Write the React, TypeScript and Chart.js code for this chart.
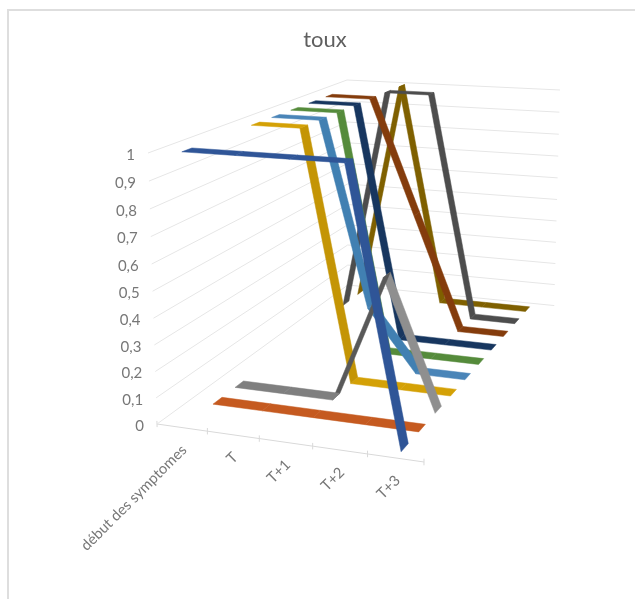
import React, { useEffect, useRef } from "react";
import { Chart, registerables } from "chart.js";

Chart.register(...registerables);

// ---- data ----
const categories = ["début des symptomes", "T", "T+1", "T+2", "T+3"];
const valueTicks = [0, 0.1, 0.2, 0.3, 0.4, 0.5, 0.6, 0.7, 0.8, 0.9, 1];
const valueTickLabels = ["0", "0,1", "0,2", "0,3", "0,4", "0,5", "0,6", "0,7", "0,8", "0,9", "1"];
const chartTitle = "toux";

// series, front to back
const serie1 = [1, 1, 1, 1, 0];
const serie2 = [0, 0, 0, 0, 0];
const serie3 = [0, 0, 0, 0.5, 0];
const serie4 = [1, 1, 0, 0, 0];
const serie5 = [1, 1, 0.25, 0, 0];
const serie6 = [1, 1, 0, 0, 0];
const serie7 = [1, 1, 0, 0, 0];
const serie8 = [1, 1, 0.5, 0, 0];
const serie9 = [0, 1, 1, 0, 0];
const serie10 = [0, 1, 0, 0, 0];
const seriesValues = [serie1, serie2, serie3, serie4, serie5, serie6, serie7, serie8, serie9, serie10];

// ---- styles: [flat, falling, rising] ----
const seriesColors = [
  ["#2f5597", "#2f5597", "#2f5597"],
  ["#c55a20", "#c55a20", "#c55a20"],
  ["#7f7f7f", "#8f8f8f", "#595959"],
  ["#d4a106", "#c49505", "#c49505"],
  ["#4a85b8", "#4180b2", "#4180b2"],
  ["#558b3b", "#558b3b", "#558b3b"],
  ["#17365f", "#17365f", "#17365f"],
  ["#843c0c", "#843c0c", "#843c0c"],
  ["#4d4d4d", "#4d4d4d", "#4d4d4d"],
  ["#7f6000", "#7f6000", "#7f6000"],
];
const GRID = "#e6e6e6";
const AXIS = "#d9d9d9";
const TEXT = "#777777";
const RIBBON = 0.04;

// ---- camera: (cat 0..1, depth 0..1, value 0..1) -> page pixels ----
function project(u: number, v: number, w: number) {
  const h = 1 - 0.0673 * u + 0.336 * v - 0.0395 * w;
  return {
    x: (157 + 238.46 * u + 307.74 * v - 14.85 * w) / h,
    y: (424 + 6.9 * u - 43.24 * v - 277.04 * w) / h,
  };
}

const catU = (i: number) => (i + 0.5) / categories.length;
const depthV = (j: number) => (j + 0.5) / seriesValues.length;

function buildDatasets() {
  const sets: any[] = [];
  seriesValues.forEach((vals, j) => {
    const v = depthV(j);
    for (let i = 0; i < vals.length - 1; i++) {
      const a = vals[i];
      const b = vals[i + 1];
      const col = seriesColors[j][a === b ? 0 : b < a ? 1 : 2];
      const data = [
        project(catU(i), v - RIBBON / 2, a),
        project(catU(i + 1), v - RIBBON / 2, b),
        project(catU(i + 1), v + RIBBON / 2, b),
        project(catU(i), v + RIBBON / 2, a),
        project(catU(i), v - RIBBON / 2, a),
      ];
      sets.push({
        label: `Série ${j + 1} ${categories[i]}`,
        data,
        showLine: true,
        fill: "shape",
        backgroundColor: col,
        borderColor: col,
        borderWidth: 0.5,
        pointRadius: 0,
        tension: 0,
        order: 100 + j * 10,
      });
    }
  });
  const rule = (label: string, data: any[], color: string) =>
    sets.push({
      label,
      data,
      showLine: true,
      fill: false,
      borderColor: color,
      borderWidth: 1,
      pointRadius: 0,
      tension: 0,
      order: 1000,
    });
  valueTicks.forEach((t) => {
    rule(`mur ${t}`, [project(0, 0, t), project(0, 1, t), project(1, 1, t)], GRID);
  });
  rule("axe", [project(0, 0, 0), project(1, 0, 0)], AXIS);
  categories.concat([""]).forEach((_, i) => {
    const u = i / categories.length;
    rule(`graduation ${i}`, [project(u, 0, -0.012), project(u, 0, 0.012)], AXIS);
  });
  return sets;
}

const labelsPlugin = {
  id: "perspectiveLabels",
  afterDraw(chart: any) {
    const { ctx, scales } = chart;
    const px = (p: { x: number; y: number }) => ({
      x: scales.x.getPixelForValue(p.x),
      y: scales.y.getPixelForValue(p.y),
    });
    ctx.save();
    ctx.fillStyle = TEXT;
    ctx.font = "15px Lato";
    ctx.textAlign = "right";
    ctx.textBaseline = "middle";
    valueTicks.forEach((t, k) => {
      const p = px(project(0, 0, t));
      ctx.fillText(valueTickLabels[k], p.x - 13, p.y + 2);
    });
    ctx.font = "14.8px Lato";
    categories.forEach((c, i) => {
      const p = px(project(catU(i), 0, 0));
      ctx.save();
      ctx.translate(p.x + 2, p.y + 20);
      ctx.rotate(-Math.PI / 4);
      ctx.textBaseline = "middle";
      ctx.fillText(c, 0, 0);
      ctx.restore();
    });
    ctx.restore();
  },
};

const LEFT = 8;
const TOP = 10;
const W = 632;
const H = 600;
const TITLE_BOTTOM = 50;

export default function App() {
  const ref = useRef<HTMLCanvasElement>(null);
  useEffect(() => {
    document.body.style.overflow = "hidden";
    const chart = new Chart(ref.current!, {
      type: "scatter",
      data: { datasets: buildDatasets() },
      plugins: [labelsPlugin],
      options: {
        animation: false,
        responsive: false,
        layout: { padding: 0 },
        scales: {
          x: { type: "linear", display: false, min: LEFT + 1, max: LEFT + 1 + W },
          y: { type: "linear", display: false, reverse: true, min: TOP + 1 + TITLE_BOTTOM, max: TOP + 1 + H },
        },
        plugins: {
          legend: { display: false },
          tooltip: { enabled: false },
          title: {
            display: true,
            text: chartTitle,
            color: "#5f5f5f",
            font: { family: "Lato", size: 22, weight: "normal", lineHeight: 1.2 },
            padding: { top: 16, bottom: TITLE_BOTTOM - 16 - 26.4 },
          },
        },
      },
    } as any);
    return () => chart.destroy();
  }, []);
  return (
    <div
      style={{
        position: "fixed",
        left: LEFT,
        top: TOP,
        width: W,
        height: H,
        boxSizing: "content-box",
        borderLeft: "2px solid #dedede",
        borderTop: "2px solid #dedede",
        marginLeft: -1,
        marginTop: -1,
        background: "#fff",
      }}
    >
      <canvas ref={ref} width={W} height={H} style={{ display: "block", filter: "blur(0.4px)" }} />
    </div>
  );
}
